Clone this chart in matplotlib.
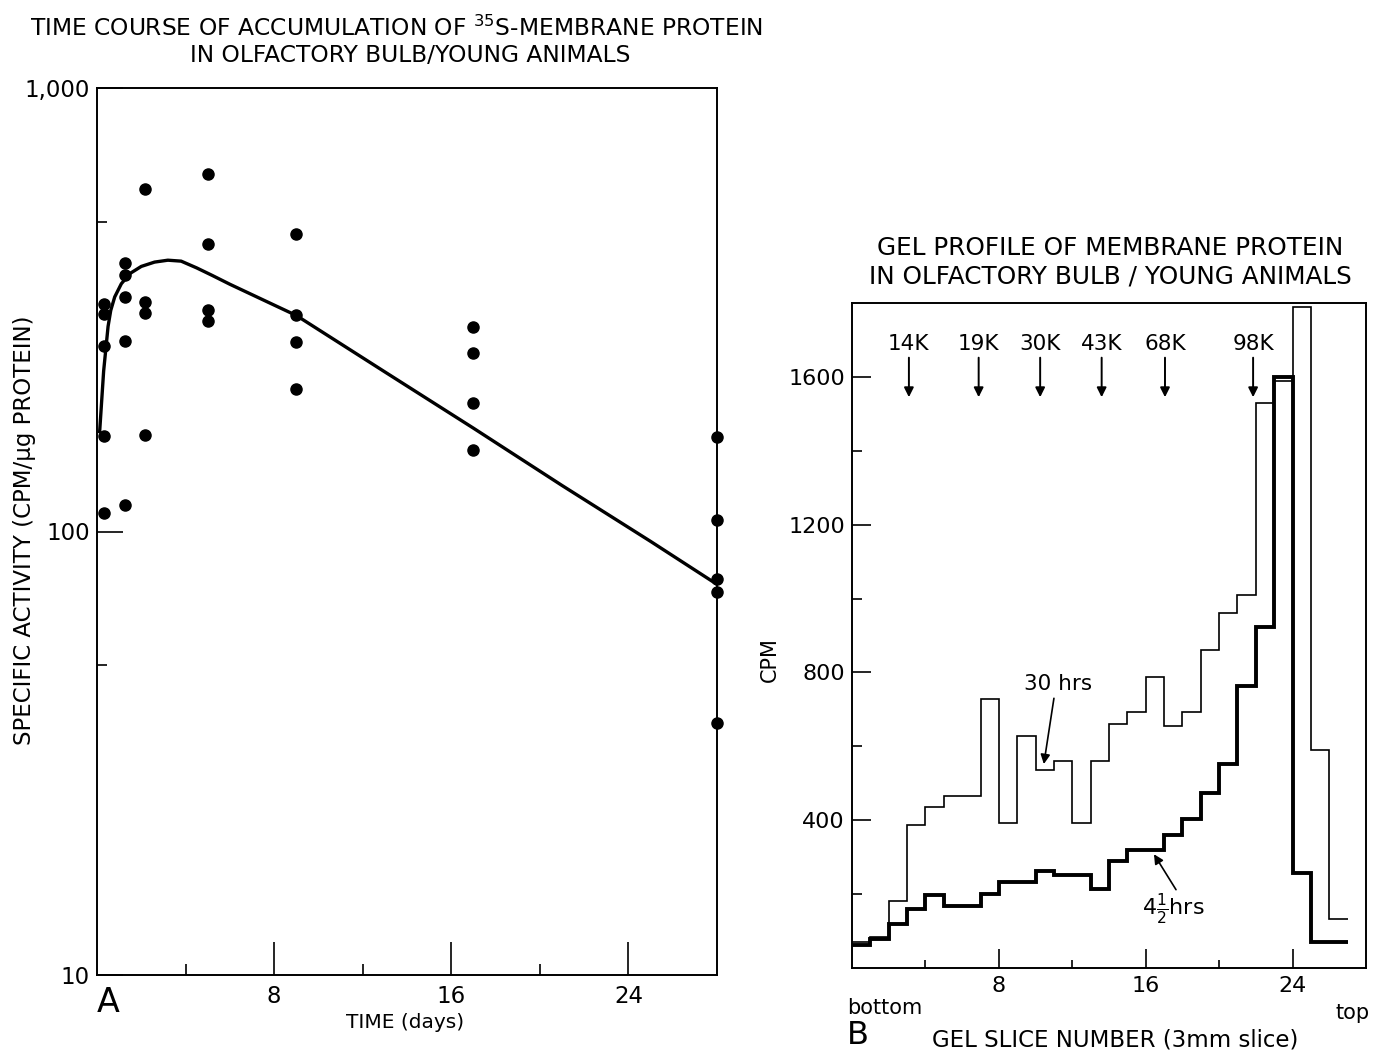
import numpy as np
import matplotlib
matplotlib.use("Agg")
import matplotlib.pyplot as plt

plt.rcParams['font.family'] = ['DejaVu Sans']

W, H = 1380, 1054

# ---------------- Panel A data ----------------
time_groups = [0.3, 1.25, 2.15, 5.0, 9.0, 17.0, 28.0]
activity_groups = [
    [326, 309, 262, 164, 110],
    [404, 379, 337, 269, 115],
    [591, 330, 311, 165],
    [639, 445, 315, 299],
    [468, 308, 268, 210],
    [289, 252, 195, 153],
    [163, 106, 78, 73, 37],
]
curve_days = [0.12, 0.3, 0.5, 0.62, 0.8, 1.1, 1.5, 2.0, 2.6, 3.2, 3.8, 4.5,
              5.2, 6.0, 7.0, 8.0, 9.0, 13.0, 17.0, 21.0, 25.0, 28.0]
curve_vals = [168, 230, 290, 315, 338, 362, 382, 396, 405, 409, 407, 393,
              378, 361, 342, 324, 307, 229, 171, 127, 95, 76]

# ---------------- Panel B data ----------------
cpm_30hrs = [70, 83, 182, 386, 435, 465, 465, 728, 393, 627, 537, 560, 393,
             560, 661, 692, 787, 656, 692, 862, 962, 1009, 1530, 1590, 1790,
             590, 132]
cpm_4half = [61, 79, 119, 160, 197, 168, 168, 200, 233, 233, 263, 251, 251,
             215, 290, 319, 319, 359, 404, 474, 551, 764, 922, 1600, 258,
             70, 70]
mw_labels = ["14K", "19K", "30K", "43K", "68K", "98K"]
mw_slices = [3.1, 6.9, 10.25, 13.6, 17.05, 21.85]

fig = plt.figure(figsize=(W / 100, H / 100), dpi=100)

def fx(x):
    return x / W

def fy(y):
    return 1 - y / H

# ---------------- Panel A ----------------
axA = fig.add_axes([fx(97), fy(975), (717 - 97) / W, (975 - 88) / H])
axA.set_yscale('log')
for t, vals in zip(time_groups, activity_groups):
    axA.plot([t] * len(vals), vals, 'o', color='black', markersize=8,
             clip_on=False, zorder=3)
axA.plot(curve_days, curve_vals, '-', color='black', lw=2.4, zorder=2)
axA.set_xlim(0, 28)
axA.set_ylim(10, 1000)
axA.set_yticks([10, 100, 1000])
axA.set_yticklabels(["10", "100", "1,000"])
axA.set_yticks([50, 500], minor=True)
axA.set_yticklabels([], minor=True)
axA.set_xticks([8, 16, 24])
axA.set_xticklabels(["8", "16", "24"])
axA.set_xticks([4, 12, 20], minor=True)
axA.tick_params(axis='y', which='major', direction='in', length=19, width=1.2,
                labelsize=16.5, pad=5)
axA.tick_params(axis='y', which='minor', direction='in', length=7, width=1.2)
axA.tick_params(axis='x', which='major', direction='in', length=24, width=1.2,
                labelsize=16.5, pad=7)
axA.tick_params(axis='x', which='minor', direction='in', length=8, width=1.2)
for s in axA.spines.values():
    s.set_linewidth(1.4)

# ---------------- Panel B ----------------
axB = fig.add_axes([fx(852), fy(968), (1366 - 852) / W, (968 - 303) / H])
edges = np.arange(len(cpm_30hrs) + 1)
axB.stairs(cpm_30hrs, edges, baseline=None, color='black', lw=1.2)
edges2 = np.arange(len(cpm_4half) + 1)
axB.stairs(cpm_4half, edges2, baseline=None, color='black', lw=2.8)
axB.set_xlim(0, 28)
axB.set_ylim(0, 1800)
axB.set_yticks([400, 800, 1200, 1600])
axB.set_yticklabels(["400", "800", "1200", "1600"])
axB.set_yticks([200, 600, 1000, 1400], minor=True)
axB.set_xticks([8, 16, 24])
axB.set_xticklabels(["8", "16", "24"])
axB.set_xticks([4, 12, 20], minor=True)
axB.tick_params(axis='y', which='major', direction='in', length=14, width=1.2,
                labelsize=16, pad=5)
axB.tick_params(axis='y', which='minor', direction='in', length=7, width=1.2)
axB.tick_params(axis='x', which='major', direction='in', length=14, width=1.2,
                labelsize=16, pad=6)
axB.tick_params(axis='x', which='minor', direction='in', length=6, width=1.2)
for s in axB.spines.values():
    s.set_linewidth(1.4)

for lab, xs in zip(mw_labels, mw_slices):
    axB.annotate('', xy=(xs, 1545), xytext=(xs, 1652),
                 arrowprops=dict(arrowstyle='-|>', lw=1.4, color='black',
                                 mutation_scale=14, shrinkA=0, shrinkB=0))
    axB.text(xs, 1690, lab, ha='center', va='center', fontsize=15.5)

axB.text(11.2, 770, '30 hrs', ha='center', va='center', fontsize=15.5)
axB.annotate('', xy=(10.45, 552), xytext=(11.0, 730),
             arrowprops=dict(arrowstyle='-|>', lw=1.2, color='black',
                             mutation_scale=14, shrinkA=0, shrinkB=0))
axB.text(17.5, 162, r'4$\frac{1}{2}$hrs', ha='center', va='center', fontsize=16)
axB.annotate('', xy=(16.45, 308), xytext=(17.65, 212),
             arrowprops=dict(arrowstyle='-|>', lw=1.2, color='black',
                             mutation_scale=14, shrinkA=0, shrinkB=0))

# ---------------- Figure text ----------------
fig.text(fx(397), fy(28), r"TIME COURSE OF ACCUMULATION OF $^{35}$S-MEMBRANE PROTEIN",
         ha='center', va='center', fontsize=16.8)
fig.text(fx(410), fy(55), "IN OLFACTORY BULB/YOUNG ANIMALS",
         ha='center', va='center', fontsize=16.8)
fig.text(fx(25), fy(530), "SPECIFIC ACTIVITY (CPM/\u00b5g PROTEIN)",
         ha='center', va='center', rotation=90, fontsize=16.5)
fig.text(fx(405), fy(1023), "TIME (days)", ha='center', va='center', fontsize=14.5)
fig.text(fx(108), fy(1003), "A", ha='center', va='center', fontsize=24)

fig.text(fx(1110), fy(248), "GEL PROFILE OF MEMBRANE PROTEIN",
         ha='center', va='center', fontsize=17.8)
fig.text(fx(1110), fy(276), "IN OLFACTORY BULB / YOUNG ANIMALS",
         ha='center', va='center', fontsize=17.8)
fig.text(fx(770), fy(660), "CPM", ha='center', va='center', rotation=90, fontsize=15)
fig.text(fx(885), fy(1008), "bottom", ha='center', va='center', fontsize=15)
fig.text(fx(1353), fy(1013), "top", ha='center', va='center', fontsize=15)
fig.text(fx(858), fy(1036), "B", ha='center', va='center', fontsize=23)
fig.text(fx(1115), fy(1040), "GEL SLICE NUMBER (3mm slice)",
         ha='center', va='center', fontsize=16.5)

fig.savefig("out.png", dpi=100)
